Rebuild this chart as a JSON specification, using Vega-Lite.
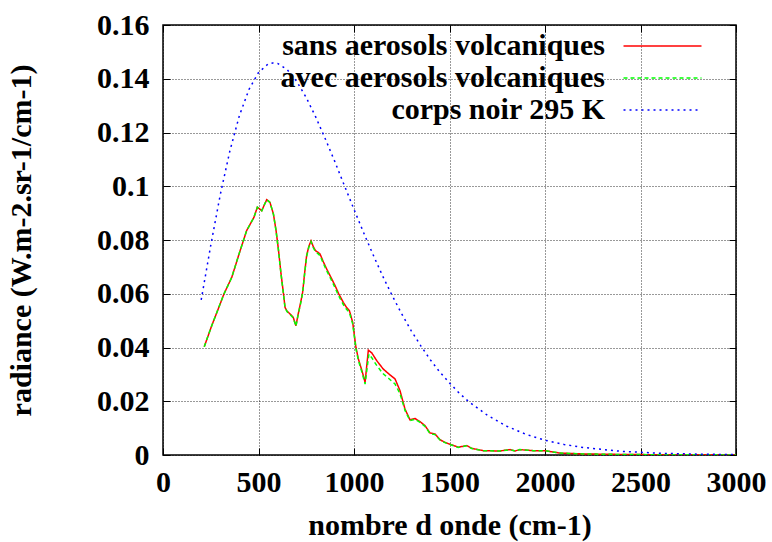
{
  "$schema": "https://vega.github.io/schema/vega-lite/v6.json",
  "width": 573,
  "height": 430,
  "autosize": {"type": "none"},
  "padding": {"left": 163, "top": 25, "right": 36, "bottom": 87},
  "background": "white",
  "config": {
    "view": {"stroke": "black", "strokeWidth": 1.5},
    "font": "Liberation Serif",
    "axis": {
      "labelFont": "Liberation Serif",
      "labelFontWeight": "bold",
      "labelFontSize": 30,
      "labelColor": "black",
      "titleFont": "Liberation Serif",
      "titleFontWeight": "bold",
      "titleFontSize": 30,
      "titleColor": "black",
      "domain": false,
      "tickColor": "black",
      "tickSize": -7,
      "tickWidth": 1,
      "labelFlush": false,
      "labelOverlap": false,
      "gridColor": "black",
      "gridDash": [1, 2],
      "gridOpacity": 0.8,
      "gridWidth": 1
    }
  },
  "data": {
    "values": [
      {"s": "sans aerosols volcaniques", "x": 216, "y": 0.0403},
      {"s": "sans aerosols volcaniques", "x": 255, "y": 0.0481},
      {"s": "sans aerosols volcaniques", "x": 290, "y": 0.0545},
      {"s": "sans aerosols volcaniques", "x": 319, "y": 0.0599},
      {"s": "sans aerosols volcaniques", "x": 360, "y": 0.0661},
      {"s": "sans aerosols volcaniques", "x": 400, "y": 0.0752},
      {"s": "sans aerosols volcaniques", "x": 438, "y": 0.0835},
      {"s": "sans aerosols volcaniques", "x": 476, "y": 0.0884},
      {"s": "sans aerosols volcaniques", "x": 494, "y": 0.0922},
      {"s": "sans aerosols volcaniques", "x": 507, "y": 0.0915},
      {"s": "sans aerosols volcaniques", "x": 517, "y": 0.0909},
      {"s": "sans aerosols volcaniques", "x": 530, "y": 0.0930},
      {"s": "sans aerosols volcaniques", "x": 543, "y": 0.0950},
      {"s": "sans aerosols volcaniques", "x": 560, "y": 0.0940},
      {"s": "sans aerosols volcaniques", "x": 578, "y": 0.0897},
      {"s": "sans aerosols volcaniques", "x": 591, "y": 0.0840},
      {"s": "sans aerosols volcaniques", "x": 604, "y": 0.0767},
      {"s": "sans aerosols volcaniques", "x": 617, "y": 0.0680},
      {"s": "sans aerosols volcaniques", "x": 630, "y": 0.0605},
      {"s": "sans aerosols volcaniques", "x": 639, "y": 0.0549},
      {"s": "sans aerosols volcaniques", "x": 650, "y": 0.0535},
      {"s": "sans aerosols volcaniques", "x": 665, "y": 0.0525},
      {"s": "sans aerosols volcaniques", "x": 682, "y": 0.0512},
      {"s": "sans aerosols volcaniques", "x": 696, "y": 0.0481},
      {"s": "sans aerosols volcaniques", "x": 708, "y": 0.0525},
      {"s": "sans aerosols volcaniques", "x": 720, "y": 0.0565},
      {"s": "sans aerosols volcaniques", "x": 731, "y": 0.0605},
      {"s": "sans aerosols volcaniques", "x": 742, "y": 0.0680},
      {"s": "sans aerosols volcaniques", "x": 752, "y": 0.0742},
      {"s": "sans aerosols volcaniques", "x": 763, "y": 0.0775},
      {"s": "sans aerosols volcaniques", "x": 775, "y": 0.0797},
      {"s": "sans aerosols volcaniques", "x": 787, "y": 0.0775},
      {"s": "sans aerosols volcaniques", "x": 799, "y": 0.0760},
      {"s": "sans aerosols volcaniques", "x": 810, "y": 0.0755},
      {"s": "sans aerosols volcaniques", "x": 822, "y": 0.0748},
      {"s": "sans aerosols volcaniques", "x": 840, "y": 0.0718},
      {"s": "sans aerosols volcaniques", "x": 857, "y": 0.0692},
      {"s": "sans aerosols volcaniques", "x": 880, "y": 0.0660},
      {"s": "sans aerosols volcaniques", "x": 901, "y": 0.0630},
      {"s": "sans aerosols volcaniques", "x": 920, "y": 0.0600},
      {"s": "sans aerosols volcaniques", "x": 944, "y": 0.0568},
      {"s": "sans aerosols volcaniques", "x": 960, "y": 0.0550},
      {"s": "sans aerosols volcaniques", "x": 976, "y": 0.0537},
      {"s": "sans aerosols volcaniques", "x": 993, "y": 0.0494},
      {"s": "sans aerosols volcaniques", "x": 1003, "y": 0.0440},
      {"s": "sans aerosols volcaniques", "x": 1010, "y": 0.0401},
      {"s": "sans aerosols volcaniques", "x": 1023, "y": 0.0357},
      {"s": "sans aerosols volcaniques", "x": 1044, "y": 0.0308},
      {"s": "sans aerosols volcaniques", "x": 1058, "y": 0.0270},
      {"s": "sans aerosols volcaniques", "x": 1075, "y": 0.0390},
      {"s": "sans aerosols volcaniques", "x": 1093, "y": 0.0380},
      {"s": "sans aerosols volcaniques", "x": 1120, "y": 0.0350},
      {"s": "sans aerosols volcaniques", "x": 1153, "y": 0.0320},
      {"s": "sans aerosols volcaniques", "x": 1185, "y": 0.0300},
      {"s": "sans aerosols volcaniques", "x": 1215, "y": 0.0283},
      {"s": "sans aerosols volcaniques", "x": 1241, "y": 0.0239},
      {"s": "sans aerosols volcaniques", "x": 1267, "y": 0.0171},
      {"s": "sans aerosols volcaniques", "x": 1293, "y": 0.0131},
      {"s": "sans aerosols volcaniques", "x": 1319, "y": 0.0136},
      {"s": "sans aerosols volcaniques", "x": 1346, "y": 0.0124},
      {"s": "sans aerosols volcaniques", "x": 1372, "y": 0.0109},
      {"s": "sans aerosols volcaniques", "x": 1398, "y": 0.0082},
      {"s": "sans aerosols volcaniques", "x": 1424, "y": 0.0078},
      {"s": "sans aerosols volcaniques", "x": 1450, "y": 0.0057},
      {"s": "sans aerosols volcaniques", "x": 1476, "y": 0.0047},
      {"s": "sans aerosols volcaniques", "x": 1503, "y": 0.0040},
      {"s": "sans aerosols volcaniques", "x": 1546, "y": 0.0029},
      {"s": "sans aerosols volcaniques", "x": 1590, "y": 0.0035},
      {"s": "sans aerosols volcaniques", "x": 1616, "y": 0.0025},
      {"s": "sans aerosols volcaniques", "x": 1677, "y": 0.0016},
      {"s": "sans aerosols volcaniques", "x": 1764, "y": 0.0015},
      {"s": "sans aerosols volcaniques", "x": 1817, "y": 0.0020},
      {"s": "sans aerosols volcaniques", "x": 1843, "y": 0.0015},
      {"s": "sans aerosols volcaniques", "x": 1869, "y": 0.0020},
      {"s": "sans aerosols volcaniques", "x": 1939, "y": 0.0016},
      {"s": "sans aerosols volcaniques", "x": 2000, "y": 0.0016},
      {"s": "sans aerosols volcaniques", "x": 2079, "y": 0.0007},
      {"s": "sans aerosols volcaniques", "x": 2200, "y": 0.0004},
      {"s": "sans aerosols volcaniques", "x": 2400, "y": 0.0002},
      {"s": "sans aerosols volcaniques", "x": 2600, "y": 0.0001},
      {"s": "sans aerosols volcaniques", "x": 2800, "y": 0.0001},
      {"s": "sans aerosols volcaniques", "x": 3000, "y": 0.0000},
      {"s": "avec aerosols volcaniques", "x": 216, "y": 0.0403},
      {"s": "avec aerosols volcaniques", "x": 255, "y": 0.0481},
      {"s": "avec aerosols volcaniques", "x": 290, "y": 0.0545},
      {"s": "avec aerosols volcaniques", "x": 319, "y": 0.0599},
      {"s": "avec aerosols volcaniques", "x": 360, "y": 0.0661},
      {"s": "avec aerosols volcaniques", "x": 400, "y": 0.0752},
      {"s": "avec aerosols volcaniques", "x": 438, "y": 0.0835},
      {"s": "avec aerosols volcaniques", "x": 476, "y": 0.0884},
      {"s": "avec aerosols volcaniques", "x": 494, "y": 0.0922},
      {"s": "avec aerosols volcaniques", "x": 507, "y": 0.0915},
      {"s": "avec aerosols volcaniques", "x": 517, "y": 0.0909},
      {"s": "avec aerosols volcaniques", "x": 530, "y": 0.0930},
      {"s": "avec aerosols volcaniques", "x": 543, "y": 0.0950},
      {"s": "avec aerosols volcaniques", "x": 560, "y": 0.0940},
      {"s": "avec aerosols volcaniques", "x": 578, "y": 0.0897},
      {"s": "avec aerosols volcaniques", "x": 591, "y": 0.0838},
      {"s": "avec aerosols volcaniques", "x": 604, "y": 0.0765},
      {"s": "avec aerosols volcaniques", "x": 617, "y": 0.0678},
      {"s": "avec aerosols volcaniques", "x": 630, "y": 0.0603},
      {"s": "avec aerosols volcaniques", "x": 639, "y": 0.0547},
      {"s": "avec aerosols volcaniques", "x": 650, "y": 0.0533},
      {"s": "avec aerosols volcaniques", "x": 665, "y": 0.0523},
      {"s": "avec aerosols volcaniques", "x": 682, "y": 0.0510},
      {"s": "avec aerosols volcaniques", "x": 696, "y": 0.0479},
      {"s": "avec aerosols volcaniques", "x": 708, "y": 0.0523},
      {"s": "avec aerosols volcaniques", "x": 720, "y": 0.0562},
      {"s": "avec aerosols volcaniques", "x": 731, "y": 0.0602},
      {"s": "avec aerosols volcaniques", "x": 742, "y": 0.0677},
      {"s": "avec aerosols volcaniques", "x": 752, "y": 0.0739},
      {"s": "avec aerosols volcaniques", "x": 763, "y": 0.0772},
      {"s": "avec aerosols volcaniques", "x": 775, "y": 0.0794},
      {"s": "avec aerosols volcaniques", "x": 787, "y": 0.0771},
      {"s": "avec aerosols volcaniques", "x": 799, "y": 0.0756},
      {"s": "avec aerosols volcaniques", "x": 810, "y": 0.0750},
      {"s": "avec aerosols volcaniques", "x": 822, "y": 0.0742},
      {"s": "avec aerosols volcaniques", "x": 840, "y": 0.0712},
      {"s": "avec aerosols volcaniques", "x": 857, "y": 0.0686},
      {"s": "avec aerosols volcaniques", "x": 880, "y": 0.0653},
      {"s": "avec aerosols volcaniques", "x": 901, "y": 0.0622},
      {"s": "avec aerosols volcaniques", "x": 920, "y": 0.0592},
      {"s": "avec aerosols volcaniques", "x": 944, "y": 0.0560},
      {"s": "avec aerosols volcaniques", "x": 960, "y": 0.0543},
      {"s": "avec aerosols volcaniques", "x": 976, "y": 0.0530},
      {"s": "avec aerosols volcaniques", "x": 993, "y": 0.0488},
      {"s": "avec aerosols volcaniques", "x": 1003, "y": 0.0435},
      {"s": "avec aerosols volcaniques", "x": 1010, "y": 0.0396},
      {"s": "avec aerosols volcaniques", "x": 1023, "y": 0.0352},
      {"s": "avec aerosols volcaniques", "x": 1044, "y": 0.0302},
      {"s": "avec aerosols volcaniques", "x": 1058, "y": 0.0264},
      {"s": "avec aerosols volcaniques", "x": 1078, "y": 0.0375},
      {"s": "avec aerosols volcaniques", "x": 1093, "y": 0.0362},
      {"s": "avec aerosols volcaniques", "x": 1120, "y": 0.0332},
      {"s": "avec aerosols volcaniques", "x": 1153, "y": 0.0302},
      {"s": "avec aerosols volcaniques", "x": 1185, "y": 0.0283},
      {"s": "avec aerosols volcaniques", "x": 1215, "y": 0.0264},
      {"s": "avec aerosols volcaniques", "x": 1241, "y": 0.0228},
      {"s": "avec aerosols volcaniques", "x": 1267, "y": 0.0166},
      {"s": "avec aerosols volcaniques", "x": 1293, "y": 0.0128},
      {"s": "avec aerosols volcaniques", "x": 1319, "y": 0.0133},
      {"s": "avec aerosols volcaniques", "x": 1346, "y": 0.0121},
      {"s": "avec aerosols volcaniques", "x": 1372, "y": 0.0106},
      {"s": "avec aerosols volcaniques", "x": 1398, "y": 0.0080},
      {"s": "avec aerosols volcaniques", "x": 1424, "y": 0.0076},
      {"s": "avec aerosols volcaniques", "x": 1450, "y": 0.0056},
      {"s": "avec aerosols volcaniques", "x": 1476, "y": 0.0046},
      {"s": "avec aerosols volcaniques", "x": 1503, "y": 0.0039},
      {"s": "avec aerosols volcaniques", "x": 1546, "y": 0.0028},
      {"s": "avec aerosols volcaniques", "x": 1590, "y": 0.0034},
      {"s": "avec aerosols volcaniques", "x": 1616, "y": 0.0024},
      {"s": "avec aerosols volcaniques", "x": 1677, "y": 0.0016},
      {"s": "avec aerosols volcaniques", "x": 1764, "y": 0.0015},
      {"s": "avec aerosols volcaniques", "x": 1817, "y": 0.0020},
      {"s": "avec aerosols volcaniques", "x": 1843, "y": 0.0015},
      {"s": "avec aerosols volcaniques", "x": 1869, "y": 0.0020},
      {"s": "avec aerosols volcaniques", "x": 1939, "y": 0.0016},
      {"s": "avec aerosols volcaniques", "x": 2000, "y": 0.0016},
      {"s": "avec aerosols volcaniques", "x": 2079, "y": 0.0007},
      {"s": "avec aerosols volcaniques", "x": 2200, "y": 0.0004},
      {"s": "avec aerosols volcaniques", "x": 2400, "y": 0.0002},
      {"s": "avec aerosols volcaniques", "x": 2600, "y": 0.0001},
      {"s": "avec aerosols volcaniques", "x": 2800, "y": 0.0001},
      {"s": "avec aerosols volcaniques", "x": 3000, "y": 0.0000},
      {"s": "corps noir 295 K", "x": 200, "y": 0.0577},
      {"s": "corps noir 295 K", "x": 250, "y": 0.0780},
      {"s": "corps noir 295 K", "x": 300, "y": 0.0969},
      {"s": "corps noir 295 K", "x": 350, "y": 0.1131},
      {"s": "corps noir 295 K", "x": 400, "y": 0.1263},
      {"s": "corps noir 295 K", "x": 450, "y": 0.1360},
      {"s": "corps noir 295 K", "x": 500, "y": 0.1423},
      {"s": "corps noir 295 K", "x": 550, "y": 0.1455},
      {"s": "corps noir 295 K", "x": 575, "y": 0.1459},
      {"s": "corps noir 295 K", "x": 600, "y": 0.1457},
      {"s": "corps noir 295 K", "x": 650, "y": 0.1434},
      {"s": "corps noir 295 K", "x": 700, "y": 0.1390},
      {"s": "corps noir 295 K", "x": 750, "y": 0.1330},
      {"s": "corps noir 295 K", "x": 800, "y": 0.1257},
      {"s": "corps noir 295 K", "x": 850, "y": 0.1176},
      {"s": "corps noir 295 K", "x": 900, "y": 0.1091},
      {"s": "corps noir 295 K", "x": 950, "y": 0.1002},
      {"s": "corps noir 295 K", "x": 1000, "y": 0.0914},
      {"s": "corps noir 295 K", "x": 1050, "y": 0.0828},
      {"s": "corps noir 295 K", "x": 1100, "y": 0.0745},
      {"s": "corps noir 295 K", "x": 1150, "y": 0.0666},
      {"s": "corps noir 295 K", "x": 1200, "y": 0.0593},
      {"s": "corps noir 295 K", "x": 1250, "y": 0.0525},
      {"s": "corps noir 295 K", "x": 1300, "y": 0.0462},
      {"s": "corps noir 295 K", "x": 1350, "y": 0.0406},
      {"s": "corps noir 295 K", "x": 1400, "y": 0.0354},
      {"s": "corps noir 295 K", "x": 1450, "y": 0.0308},
      {"s": "corps noir 295 K", "x": 1500, "y": 0.0268},
      {"s": "corps noir 295 K", "x": 1550, "y": 0.0231},
      {"s": "corps noir 295 K", "x": 1600, "y": 0.0199},
      {"s": "corps noir 295 K", "x": 1700, "y": 0.0147},
      {"s": "corps noir 295 K", "x": 1800, "y": 0.0107},
      {"s": "corps noir 295 K", "x": 1900, "y": 0.0077},
      {"s": "corps noir 295 K", "x": 2000, "y": 0.0055},
      {"s": "corps noir 295 K", "x": 2100, "y": 0.0039},
      {"s": "corps noir 295 K", "x": 2200, "y": 0.0028},
      {"s": "corps noir 295 K", "x": 2400, "y": 0.00136},
      {"s": "corps noir 295 K", "x": 2600, "y": 0.00065},
      {"s": "corps noir 295 K", "x": 2800, "y": 0.00031},
      {"s": "corps noir 295 K", "x": 3000, "y": 0.00014}
    ]
  },
  "layer": [
    {
      "mark": {"type": "line", "strokeWidth": 1.5, "clip": true},
      "encoding": {
        "x": {
          "field": "x", "type": "quantitative",
          "scale": {"domain": [0, 3000], "nice": false, "zero": false},
          "axis": {
            "orient": "bottom",
            "values": [0, 500, 1000, 1500, 2000, 2500, 3000],
            "format": "d",
            "title": "nombre d onde (cm-1)",
            "grid": true,
            "labelPadding": 19,
            "titlePadding": 13
          }
        },
        "y": {
          "field": "y", "type": "quantitative",
          "scale": {"domain": [0, 0.16], "nice": false},
          "axis": {
            "orient": "left",
            "values": [0, 0.02, 0.04, 0.06, 0.08, 0.1, 0.12, 0.14, 0.16],
            "labelExpr": "'' + datum.value",
            "title": "radiance (W.m-2.sr-1/cm-1)",
            "grid": true,
            "labelPadding": 21,
            "titlePadding": 60
          }
        },
        "color": {
          "field": "s", "type": "nominal",
          "scale": {
            "domain": ["sans aerosols volcaniques", "avec aerosols volcaniques", "corps noir 295 K"],
            "range": ["#ff0000", "#00ff00", "#0000ff"]
          },
          "legend": {
            "title": null, "orient": "none", "legendX": 484.5, "legendY": 6, "padding": 0,
            "symbolType": "M-4,0H4", "symbolSize": 380, "symbolStrokeWidth": 1.5,
            "labelAlign": "right", "labelOffset": -72.5, "labelLimit": 600,
            "labelFont": "Liberation Serif", "labelFontWeight": "bold", "labelFontSize": 30,
            "labelColor": "black", "rowPadding": 2
          }
        },
        "strokeDash": {
          "field": "s", "type": "nominal",
          "scale": {
            "domain": ["sans aerosols volcaniques", "avec aerosols volcaniques", "corps noir 295 K"],
            "range": [[1, 0], [4, 3], [2, 4]]
          },
          "legend": {
            "title": null, "orient": "none", "legendX": 484.5, "legendY": 6, "padding": 0,
            "symbolType": "M-4,0H4", "symbolSize": 380, "symbolStrokeWidth": 1.5,
            "labelAlign": "right", "labelOffset": -72.5, "labelLimit": 600,
            "labelFont": "Liberation Serif", "labelFontWeight": "bold", "labelFontSize": 30,
            "labelColor": "black", "rowPadding": 2
          }
        }
      }
    },
    {
      "mark": {"type": "line", "opacity": 0},
      "encoding": {
        "x": {
          "field": "x", "type": "quantitative",
          "axis": {"orient": "top", "values": [0, 500, 1000, 1500, 2000, 2500, 3000], "labels": false, "title": null, "grid": false}
        },
        "y": {
          "field": "y", "type": "quantitative",
          "axis": {"orient": "right", "values": [0, 0.02, 0.04, 0.06, 0.08, 0.1, 0.12, 0.14, 0.16], "labels": false, "title": null, "grid": false}
        },
        "detail": {"field": "s"}
      }
    }
  ],
  "resolve": {"axis": {"x": "independent", "y": "independent"}}
}
